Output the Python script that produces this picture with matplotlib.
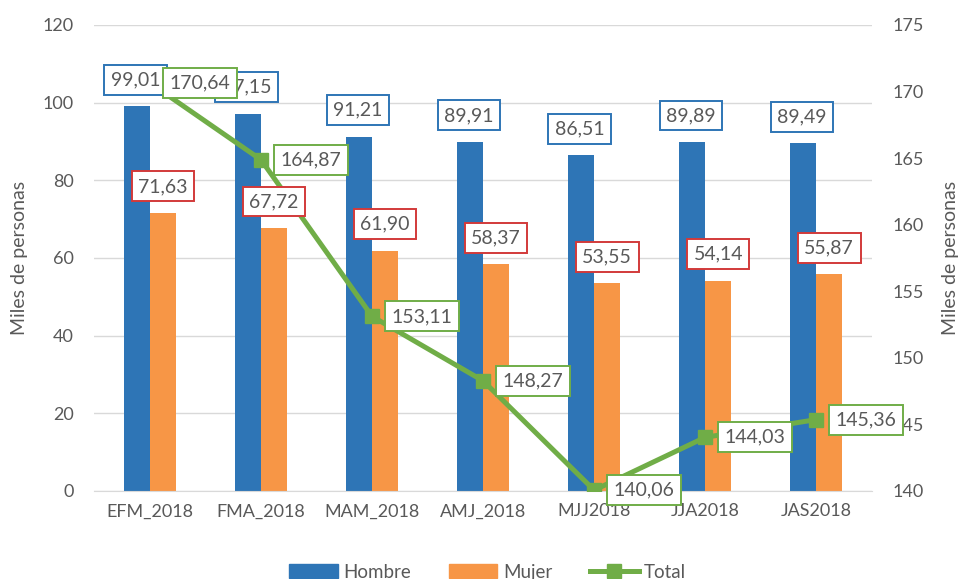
import matplotlib.pyplot as plt
from matplotlib.lines import Line2D
from matplotlib.patches import Patch
import numpy as np

plt.rcParams['font.family'] = ['Lato', 'DejaVu Sans']

categorias = ['EFM_2018', 'FMA_2018', 'MAM_2018', 'AMJ_2018', 'MJJ2018', 'JJA2018', 'JAS2018']
hombre = [99.01, 97.15, 91.21, 89.91, 86.51, 89.89, 89.49]
mujer = [71.63, 67.72, 61.90, 58.37, 53.55, 54.14, 55.87]
total = [170.64, 164.87, 153.11, 148.27, 140.06, 144.03, 145.36]

azul = '#2E75B6'
naranja = '#F79646'
verde = '#70AD47'
rojo = '#D23A3A'
gris = '#595959'

def fmt(v):
    return f'{v:.2f}'.replace('.', ',')

fig = plt.figure(figsize=(9.62, 5.79), dpi=100)
ax = fig.add_axes([0.0982, 0.152, 0.808, 0.805])
x = np.arange(len(categorias))
w = 0.235

ax.bar(x - w / 2, hombre, w, color=azul, zorder=2)
ax.bar(x + w / 2, mujer, w, color=naranja, zorder=2)
ax.set_ylim(0, 120)
ax.set_yticks(range(0, 121, 20))
ax.set_xlim(-0.5, len(categorias) - 0.5)
ax.set_xticks(x)
ax.set_xticklabels(categorias)
ax.grid(axis='y', color='#d9d9d9', lw=1, zorder=0)
ax.set_axisbelow(True)
for s in ['top', 'left', 'right']:
    ax.spines[s].set_visible(False)
ax.spines['bottom'].set_color('#d9d9d9')
ax.tick_params(length=0, labelsize=13, colors=gris, pad=9)
ax.tick_params(axis='y', pad=15)
ax.set_ylabel('Miles de personas', fontsize=14, color=gris)
ax.yaxis.set_label_coords(-0.0856, 0.5)

ax2 = ax.twinx()
ax2.plot(x, total, color=verde, lw=3.6, marker='s', markersize=10, zorder=3)
ax2.set_ylim(140, 175)
ax2.set_yticks(range(140, 176, 5))
for s in ax2.spines.values():
    s.set_visible(False)
ax2.tick_params(length=0, labelsize=13, colors=gris, pad=15)
ax2.set_ylabel('Miles de personas', fontsize=14, color=gris)
ax2.yaxis.set_label_coords(1.0905, 0.5)

# etiquetas de datos
caja = dict(boxstyle='square,pad=0.33', fc='white', lw=1.4)
for i in range(len(categorias)):
    ax2.annotate(fmt(mujer[i]), xy=(x[i] + w / 2, mujer[i]), xycoords=ax.transData,
                 xytext=(0, 19), textcoords='offset points', ha='center', va='center',
                 fontsize=14, color=gris, zorder=5, annotation_clip=False,
                 bbox=dict(caja, ec=rojo))
for i in range(len(categorias)):
    ax2.annotate(fmt(hombre[i]), xy=(x[i] - w / 2, hombre[i]), xycoords=ax.transData,
                 xytext=(-1, 19), textcoords='offset points', ha='center', va='center',
                 fontsize=14, color=gris, zorder=6, annotation_clip=False,
                 bbox=dict(caja, ec=azul))
for i in range(len(categorias)):
    ax2.annotate(fmt(total[i]), xy=(x[i], total[i]),
                 xytext=(14, 0), textcoords='offset points', ha='left', va='center',
                 fontsize=14, color=gris, zorder=7, annotation_clip=False,
                 bbox=dict(caja, ec=verde))

handles = [Patch(color=azul, label='Hombre'), Patch(color=naranja, label='Mujer'),
           Line2D([], [], color=verde, lw=3.6, marker='s', markersize=10, label='Total')]
leg = fig.legend(handles=handles, loc='center', bbox_to_anchor=(0.507, 0.012), ncol=3,
                 frameon=False, fontsize=13.5, handlelength=2.6, handleheight=0.8,
                 columnspacing=2.0, handletextpad=0.3)
for t in leg.get_texts():
    t.set_color(gris)

fig.savefig('out.png', dpi=100)
